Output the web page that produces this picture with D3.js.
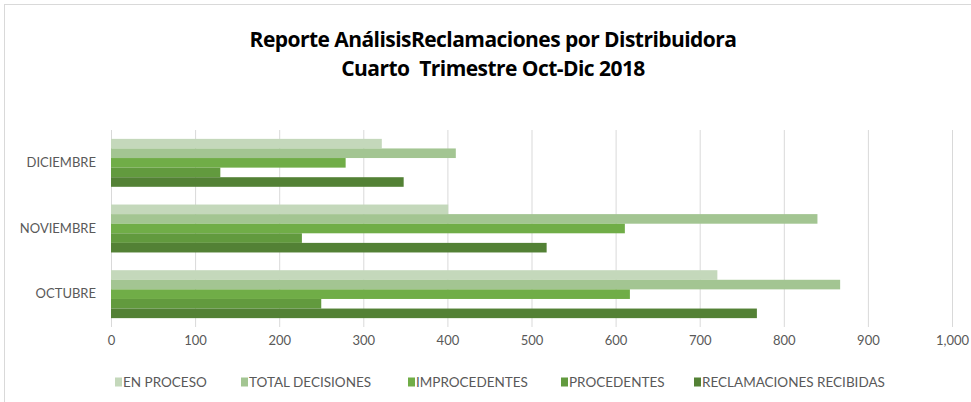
<!DOCTYPE html>
<html>
<head>
<meta charset="utf-8">
<script src="https://cdn.jsdelivr.net/npm/d3@7"></script>
<style>
  body { margin: 0; background: #fff; }
  text { font-family: Lato, "Open Sans", sans-serif; }
</style>
</head>
<body>
<div id="chart"></div>
<script>
// months, top to bottom as drawn
const months = ["DICIEMBRE", "NOVIEMBRE", "OCTUBRE"];
const seriesNames = ["EN PROCESO", "TOTAL DECISIONES", "IMPROCEDENTES", "PROCEDENTES", "RECLAMACIONES RECIBIDAS"];
const seriesColors = ["#c4d8bb", "#a3c592", "#70ad47", "#629a3e", "#538135"];

// values per month, same order as seriesNames
const enProceso = [322, 401, 721];
const totalDecisiones = [410, 840, 867];
const improcedentes = [279, 611, 617];
const procedentes = [130, 227, 250];
const reclamaciones = [348, 518, 768];

const xTicks = [0, 100, 200, 300, 400, 500, 600, 700, 800, 900, 1000];

const allSeries = [enProceso, totalDecisiones, improcedentes, procedentes, reclamaciones];

const width = 971, height = 402;
const margin = { top: 130, right: 19, bottom: 75, left: 111 };

const svg = d3.select("#chart").append("svg")
    .attr("width", width)
    .attr("height", height);

// chart frame
svg.append("rect")
    .attr("x", 4.5).attr("y", 4.5)
    .attr("width", width + 10).attr("height", height + 10)
    .attr("fill", "#fff")
    .attr("stroke", "#d9d9d9");

const titleLines = ["Reporte AnálisisReclamaciones por Distribuidora", "Cuarto  Trimestre Oct-Dic 2018"];
svg.append("g")
    .selectAll("text")
    .data(titleLines)
    .join("text")
    .attr("x", 493)
    .attr("y", (d, i) => 47 + i * 29)
    .attr("text-anchor", "middle")
    .style("font-family", "'Open Sans', sans-serif")
    .style("font-weight", "bold")
    .style("font-size", "21px")
    .style("letter-spacing", "-0.55px")
    .style("white-space", "pre")
    .text(d => d);

const x = d3.scaleLinear()
    .domain([0, 1000])
    .range([margin.left, width - margin.right]);

const y = d3.scaleBand()
    .domain(months)
    .range([margin.top, height - margin.bottom])
    .paddingInner(0.27)
    .paddingOuter(0.135);

const ySub = d3.scaleBand()
    .domain(seriesNames)
    .range([0, y.bandwidth()]);

// gridlines
svg.append("g")
    .selectAll("line")
    .data(xTicks)
    .join("line")
    .attr("x1", d => x(d) + 0.5)
    .attr("x2", d => x(d) + 0.5)
    .attr("y1", margin.top)
    .attr("y2", height - margin.bottom)
    .attr("stroke", "#d9d9d9");

// x axis labels
const xAxis = svg.append("g")
    .attr("transform", `translate(0, ${height - margin.bottom})`)
    .call(d3.axisBottom(x).tickValues(xTicks).tickSize(0).tickPadding(9).tickFormat(d3.format(",")));
xAxis.select(".domain").remove();
xAxis.selectAll("text")
    .style("font-family", "Lato, sans-serif")
    .style("font-size", "13px")
    .attr("fill", "#595959");

// y axis labels
const yAxis = svg.append("g")
    .attr("transform", `translate(${margin.left}, 0)`)
    .call(d3.axisLeft(y).tickSize(0).tickPadding(15));
yAxis.select(".domain").remove();
yAxis.selectAll("text")
    .style("font-family", "Lato, sans-serif")
    .style("font-size", "13px")
    .attr("fill", "#595959");

// bars
svg.append("g")
    .selectAll("g")
    .data(seriesNames)
    .join("g")
    .attr("fill", (d, i) => seriesColors[i])
    .selectAll("rect")
    .data((s, i) => months.map((m, j) => ({ month: m, series: s, value: allSeries[i][j] })))
    .join("rect")
    .attr("x", x(0))
    .attr("y", d => y(d.month) + ySub(d.series))
    .attr("width", d => x(d.value) - x(0))
    .attr("height", ySub.bandwidth());

// legend
const legendX = [115, 241, 408, 561, 694];
const legend = svg.append("g")
    .selectAll("g")
    .data(seriesNames)
    .join("g")
    .attr("transform", (d, i) => `translate(${legendX[i]}, 382)`);
legend.append("rect")
    .attr("x", 0).attr("y", -4.5)
    .attr("width", 7).attr("height", 9)
    .attr("fill", (d, i) => seriesColors[i]);
legend.append("text")
    .attr("x", 8)
    .attr("dy", "0.35em")
    .style("font-family", "Lato, sans-serif")
    .style("font-size", "13.5px")
    .attr("fill", "#595959")
    .text(d => d);
</script>
</body>
</html>
